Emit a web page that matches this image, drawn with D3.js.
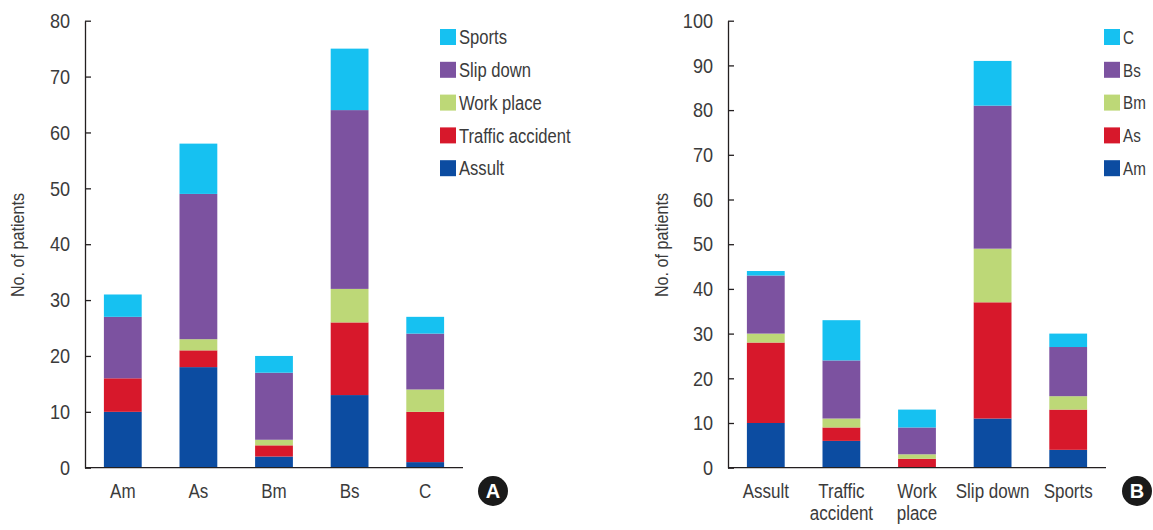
<!DOCTYPE html>
<html>
<head>
<meta charset="utf-8">
<script src="https://cdn.jsdelivr.net/npm/d3@7"></script>
<style>
  body { margin: 0; background: #fff; }
  svg text { font-family: "Liberation Sans Narrow", "Arial Narrow", "Liberation Sans", sans-serif; fill: #3b3b3b; }
</style>
</head>
<body>
<div id="chart"></div>
<script>
// patient counts: groups (rows of chart A) x causes of injury
const groups = ["Am", "As", "Bm", "Bs", "C"];
const causes = ["Assult", "Traffic accident", "Work place", "Slip down", "Sports"];
const causeLabels = [["Assult"], ["Traffic", "accident"], ["Work", "place"], ["Slip down"], ["Sports"]];
const assult = [10, 18, 2, 13, 1];
const traffic = [6, 3, 2, 13, 9];
const workPlace = [0, 2, 1, 6, 4];
const slipDown = [11, 26, 12, 32, 10];
const sports = [4, 9, 3, 11, 3];
const ticksA = [0, 10, 20, 30, 40, 50, 60, 70, 80];
const ticksB = [0, 10, 20, 30, 40, 50, 60, 70, 80, 90, 100];
const colors = ["#0c4ca1", "#d7182b", "#bdd877", "#7c52a0", "#16c1f1"];

const byCause = [assult, traffic, workPlace, slipDown, sports];
// chart B: rows = causes, series = groups
const byGroup = groups.map((g, gi) => byCause.map(arr => arr[gi]));

const width = 1153, height = 530;
const svg = d3.select("#chart").append("svg")
    .attr("width", width)
    .attr("height", height);

// no narrow font here, so squeeze the glyphs a bit
function condense(sel, f) {
    sel.each(function() {
        const len = this.getComputedTextLength();
        d3.select(this).attr("textLength", len * f).attr("lengthAdjust", "spacingAndGlyphs");
    });
}

function drawPanel(opt) {
    const g = svg.append("g");
    const x = d3.scaleBand().domain(d3.range(opt.cats.length))
        .range([opt.left, opt.left + 378])
        .paddingInner(0.5).paddingOuter(0.25);
    const y = d3.scaleLinear().domain([0, opt.max]).range([467.7, 20.7]);

    // stacked bars
    opt.series.forEach((vals, si) => {
        let base = opt.cats.map(() => 0);
        for (let k = 0; k < si; k++) opt.series[k].forEach((v, i) => base[i] += v);
        g.append("g").selectAll("rect")
            .data(vals)
            .join("rect")
            .attr("x", (d, i) => x(i))
            .attr("width", x.bandwidth())
            .attr("y", (d, i) => y(base[i] + d))
            .attr("height", (d, i) => y(base[i]) - y(base[i] + d))
            .attr("fill", colors[si]);
    });

    // y axis
    const ya = g.append("g")
        .attr("transform", `translate(${opt.left},0)`)
        .call(d3.axisLeft(y).tickValues(opt.ticks).tickSize(-6).tickSizeOuter(0).tickPadding(15));
    ya.selectAll("path, line").attr("stroke", "#231f20").attr("stroke-width", 1.3);
    ya.selectAll("text").style("font-size", "21px").attr("fill", "#3b3b3b").call(condense, 0.86);

    // x axis baseline
    g.append("line")
        .attr("x1", opt.left).attr("x2", opt.left + 378)
        .attr("y1", y(0)).attr("y2", y(0))
        .attr("stroke", "#231f20").attr("stroke-width", 1.3);

    // category labels
    opt.cats.forEach((lines, i) => {
        lines.forEach((ln, li) => {
            g.append("text")
                .attr("x", x(i) + x.bandwidth() / 2)
                .attr("y", 498 + li * 22)
                .attr("text-anchor", "middle")
                .style("font-size", "20px")
                .text(ln)
                .call(condense, 0.85);
        });
    });

    // axis title
    g.append("text")
        .attr("transform", `translate(${opt.titleX},245) rotate(-90)`)
        .attr("text-anchor", "middle")
        .attr("dy", "0.35em")
        .style("font-size", "19px")
        .text("No. of patients")
        .call(condense, 0.85);

    // legend (reversed, top item = last series)
    const legend = g.append("g").selectAll("g")
        .data(opt.legend.slice().reverse())
        .join("g")
        .attr("transform", (d, i) => `translate(${opt.legendX},${29 + i * 32.8})`);
    legend.append("rect")
        .attr("width", 16).attr("height", 16)
        .attr("fill", (d, i) => colors[opt.legend.length - 1 - i]);
    legend.append("text")
        .attr("x", 19).attr("y", 8).attr("dy", "0.36em")
        .style("font-size", opt.legendFont)
        .text(d => d)
        .call(condense, opt.legendSqueeze);

    // panel badge
    g.append("circle")
        .attr("cx", opt.badgeX).attr("cy", 491).attr("r", 15)
        .attr("fill", "#1a1a1a");
    g.append("text")
        .attr("x", opt.badgeX).attr("y", 491).attr("dy", "0.36em")
        .attr("text-anchor", "middle")
        .style("font-family", "'Liberation Sans', Arial, sans-serif")
        .style("font-weight", "bold").style("font-size", "20px")
        .style("fill", "#fff")
        .text(opt.badge);
}

drawPanel({
    left: 85, max: 80, ticks: ticksA,
    cats: groups.map(d => [d]),
    series: byCause, legend: causes, legendSqueeze: 0.83, legendFont: "20px",
    legendX: 440, titleX: 17, badgeX: 493, badge: "A"
});

drawPanel({
    left: 728, max: 100, ticks: ticksB,
    cats: causeLabels,
    series: byGroup, legend: groups, legendSqueeze: 0.8, legendFont: "19px",
    legendX: 1104, titleX: 661, badgeX: 1137, badge: "B"
});
</script>
</body>
</html>
